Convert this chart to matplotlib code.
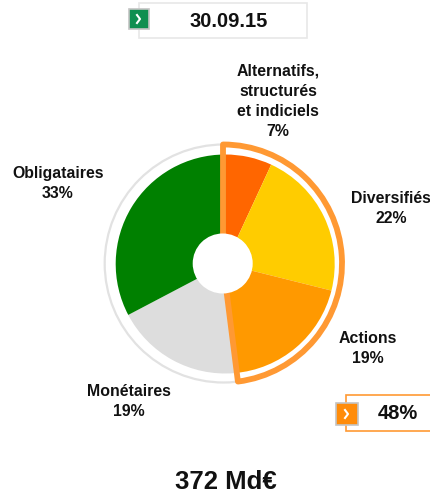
import matplotlib
matplotlib.use("Agg")
import matplotlib.pyplot as plt
from matplotlib.patches import Wedge, Circle, Rectangle

plt.rcParams['font.family'] = ['Liberation Sans', 'DejaVu Sans']

# Data
categories = ["Alternatifs", "Diversifiés", "Actions", "Monétaires", "Obligataires"]
values = [6.9, 22.0, 19.8, 18.6, 32.7]
colors = ["#ff6600", "#ffcc00", "#ff9900", "#dddddd", "#008000"]
labels = ["Alternatifs,\nstructurés\net indiciels\n7%", "Diversifiés\n22%", "Actions\n19%",
          "Monétaires\n19%", "Obligataires\n33%"]
label_pos = [(278, 101.5), (391, 208.5), (368, 348.5), (129, 401.5), (58, 183.5)]
date_label = "30.09.15"
highlight_label = "48%"
highlight_share = 48
total_label = "372 Md€"

W, H = 431, 495
cx, cy = 222.7, H - 263.5
pie_cx, pie_cy = 225.2, H - 264


def flip(y):
    return H - y


fig = plt.figure(figsize=(W / 100, H / 100), dpi=100)
ax = fig.add_axes([0, 0, 1, 1])

# Donut
ax.pie(values, colors=colors, startangle=90, counterclock=False, center=(pie_cx, pie_cy),
       radius=109.5, wedgeprops=dict(width=109.5, linewidth=0))
ax.set_xlim(0, W)
ax.set_ylim(0, H)
ax.set_aspect("equal")
ax.axis("off")

# Grey ring around the rest, orange outline around the highlighted share
ax.add_patch(Circle((cx + 1, cy), 119, fill=False, edgecolor="#e2e2e2", linewidth=1.6, zorder=3))
ax.add_patch(Wedge((cx + 0.3, cy), 119, 90 - highlight_share * 3.6, 90, width=100,
                   facecolor="none", edgecolor="#ff9933", linewidth=4.2,
                   joinstyle="round", zorder=4))
ax.add_patch(Circle((cx, cy), 30, facecolor="white", edgecolor="none", zorder=5))

for lab, (x, y) in zip(labels, label_pos):
    ax.text(x, flip(y), lab, ha="center", va="center", fontsize=11.4, fontweight="bold",
            color="#111111", linespacing=1.43, zorder=6)


def tag(x0, y0, x1, y1, edge, ix0, iy0, ix1, iy1, icon, text, tx, ty, lw):
    ax.add_patch(Rectangle((x0, flip(y1)), x1 - x0, y1 - y0, facecolor="white",
                           edgecolor=edge, linewidth=lw, zorder=2))
    ax.add_patch(Rectangle((ix0, flip(iy1)), ix1 - ix0, iy1 - iy0, facecolor=icon,
                           edgecolor="#c4c4c4", linewidth=1.2, zorder=3))
    mx, my = (ix0 + ix1) / 2, flip((iy0 + iy1) / 2)
    ax.plot([mx - 2, mx + 1, mx - 2], [my + 4, my, my - 4], color="white", linewidth=1.5, zorder=4)
    ax.text(tx, flip(ty), text, ha="center", va="center", fontsize=14.5,
            fontweight="bold", color="#111111", zorder=4)


tag(139.5, 2.5, 307.5, 37.5, "#e8e8e8", 129, 9, 149, 29, "#0f8f50", date_label, 229, 21, 1.2)
tag(346.5, 395, 440, 431, "#ff9933", 336, 403, 358, 425, "#ff8c0a", highlight_label, 398, 414, 1.2)

ax.text(225.5, flip(482), total_label, ha="center", va="center", fontsize=18.5,
        fontweight="bold", color="#111111")

fig.savefig("out.png", dpi=100)
